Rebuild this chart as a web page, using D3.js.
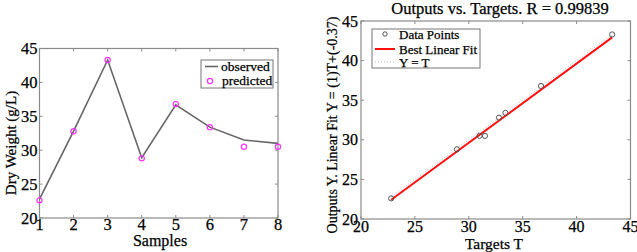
<!DOCTYPE html>
<html>
<head>
<meta charset="utf-8">
<script src="https://cdn.jsdelivr.net/npm/d3@7"></script>
<style>
  body { margin: 0; background: #fff; }
  svg text { font-family: "Liberation Serif", "Times New Roman", serif; fill: #000; stroke: #000; stroke-width: 0.25px; }
</style>
</head>
<body>
<svg id="chart"></svg>
<script>
var width = 637, height = 252;

// data
var samples = [1, 2, 3, 4, 5, 6, 7, 8];
var observed = [22.8, 32.8, 43.3, 28.9, 36.7, 33.4, 31.5, 31.0];
var predicted = [22.6, 32.8, 43.3, 28.8, 36.8, 33.4, 30.5, 30.5];
var yTicks = [20, 25, 30, 35, 40, 45];
var tTicks = [20, 25, 30, 35, 40, 45];
var fitSlope = 1, fitOffset = -0.37;

var svg = d3.select("#chart")
  .attr("width", width)
  .attr("height", height);

var boxColor = "#8a8a8a";

// ticks inside the box, on all four sides (matlab style)
function innerAxes(g, x, y, xt, yt) {
  g.selectAll(".xtb").data(xt).enter().append("line")
    .attr("x1", function (d) { return x(d); }).attr("x2", function (d) { return x(d); })
    .attr("y1", y.range()[0]).attr("y2", y.range()[0] - 3)
    .attr("stroke", boxColor);
  g.selectAll(".xtt").data(xt).enter().append("line")
    .attr("x1", function (d) { return x(d); }).attr("x2", function (d) { return x(d); })
    .attr("y1", y.range()[1]).attr("y2", y.range()[1] + 3)
    .attr("stroke", boxColor);
  g.selectAll(".ytl").data(yt).enter().append("line")
    .attr("y1", function (d) { return y(d); }).attr("y2", function (d) { return y(d); })
    .attr("x1", x.range()[0]).attr("x2", x.range()[0] + 3)
    .attr("stroke", boxColor);
  g.selectAll(".ytr").data(yt).enter().append("line")
    .attr("y1", function (d) { return y(d); }).attr("y2", function (d) { return y(d); })
    .attr("x1", x.range()[1]).attr("x2", x.range()[1] - 3)
    .attr("stroke", boxColor);
}

// ---------- left panel: samples ----------
var x1 = d3.scaleLinear().domain([1, 8]).range([39.5, 278]);
var y1 = d3.scaleLinear().domain([20, 45]).range([218, 48.5]);

var left = svg.append("g");

left.append("rect")
  .attr("x", x1(1)).attr("y", y1(45))
  .attr("width", x1(8) - x1(1)).attr("height", y1(20) - y1(45))
  .attr("fill", "#fff").attr("stroke", boxColor).attr("stroke-width", 1.2);

innerAxes(left, x1, y1, samples, yTicks);

left.selectAll(".xl").data(samples).enter().append("text")
  .attr("x", function (d) { return x1(d); })
  .attr("y", 230)
  .attr("text-anchor", "middle")
  .attr("font-size", 16.5)
  .text(function (d) { return d; });

left.selectAll(".yl").data(yTicks).enter().append("text")
  .attr("x", x1(1) - 2)
  .attr("y", function (d) { return y1(d) + 5.5; })
  .attr("text-anchor", "end")
  .attr("font-size", 16.5)
  .text(function (d) { return d; });

left.append("text")
  .attr("x", 160).attr("y", 246)
  .attr("text-anchor", "middle").attr("font-size", 16)
  .text("Samples");

left.append("text")
  .attr("transform", "translate(16,143) rotate(-90)")
  .attr("text-anchor", "middle").attr("font-size", 15)
  .text("Dry Weight (g/L)");

var line1 = d3.line()
  .x(function (d, i) { return x1(samples[i]); })
  .y(function (d) { return y1(d); });

left.append("path")
  .datum(observed)
  .attr("d", line1)
  .attr("fill", "none").attr("stroke", "#666").attr("stroke-width", 1.6);

left.selectAll(".pred").data(predicted).enter().append("circle")
  .attr("cx", function (d, i) { return x1(samples[i]); })
  .attr("cy", function (d) { return y1(d); })
  .attr("r", 2.6)
  .attr("fill", "none").attr("stroke", "#ff33ff").attr("stroke-width", 1.2);

// legend
var lg1 = left.append("g");
lg1.append("rect").attr("x", 201).attr("y", 60).attr("width", 72).attr("height", 28)
  .attr("fill", "#fff").attr("stroke", "#777").attr("stroke-width", 1);
lg1.append("line").attr("x1", 205).attr("x2", 218).attr("y1", 66.5).attr("y2", 66.5)
  .attr("stroke", "#666").attr("stroke-width", 1.6);
lg1.append("text").attr("x", 221).attr("y", 71).attr("font-size", 13.5).text("observed");
lg1.append("circle").attr("cx", 210).attr("cy", 81).attr("r", 2.6)
  .attr("fill", "none").attr("stroke", "#ff33ff").attr("stroke-width", 1.2);
lg1.append("text").attr("x", 222).attr("y", 85).attr("font-size", 13.5).text("predicted");

// ---------- right panel: regression ----------
var x2 = d3.scaleLinear().domain([20, 45]).range([361, 630.5]);
var y2 = d3.scaleLinear().domain([20, 45]).range([219, 21]);

var right = svg.append("g");

right.append("rect")
  .attr("x", x2(20)).attr("y", y2(45))
  .attr("width", x2(45) - x2(20)).attr("height", y2(20) - y2(45))
  .attr("fill", "#fff").attr("stroke", boxColor).attr("stroke-width", 1.2);

innerAxes(right, x2, y2, tTicks, yTicks);

right.selectAll(".xl").data(tTicks).enter().append("text")
  .attr("x", function (d) { return x2(d); })
  .attr("y", 232)
  .attr("text-anchor", "middle")
  .attr("font-size", 16)
  .text(function (d) { return d; });

right.selectAll(".yl").data(yTicks).enter().append("text")
  .attr("x", x2(20) - 3)
  .attr("y", function (d) { return y2(d) + 5.5; })
  .attr("text-anchor", "end")
  .attr("font-size", 16)
  .text(function (d) { return d; });

right.append("text")
  .attr("x", 500).attr("y", 14)
  .attr("text-anchor", "middle").attr("font-size", 16.5)
  .text("Outputs vs. Targets. R = 0.99839");

right.append("text")
  .attr("x", 494).attr("y", 249)
  .attr("text-anchor", "middle").attr("font-size", 15.5)
  .text("Targets T");

right.append("text")
  .attr("transform", "translate(337,125) rotate(-90)")
  .attr("text-anchor", "middle").attr("font-size", 14)
  .text("Outputs Y. Linear Fit Y = (1)T+(-0.37)");

var tMin = d3.min(observed), tMax = d3.max(observed);

// Y = T dotted line
right.append("line")
  .attr("x1", x2(tMin)).attr("y1", y2(tMin))
  .attr("x2", x2(tMax)).attr("y2", y2(tMax))
  .attr("stroke", "#bbb").attr("stroke-width", 1).attr("stroke-dasharray", "1,2");

// best linear fit
right.append("line")
  .attr("x1", x2(tMin)).attr("y1", y2(fitSlope * tMin + fitOffset))
  .attr("x2", x2(tMax)).attr("y2", y2(fitSlope * tMax + fitOffset))
  .attr("stroke", "#ff1010").attr("stroke-width", 2);

right.selectAll(".pt").data(observed).enter().append("circle")
  .attr("cx", function (d) { return x2(d); })
  .attr("cy", function (d, i) { return y2(predicted[i]); })
  .attr("r", 2.6)
  .attr("fill", "none").attr("stroke", "#555").attr("stroke-width", 1);

// legend
var lg2 = right.append("g");
lg2.append("rect").attr("x", 372).attr("y", 29).attr("width", 108).attr("height", 39)
  .attr("fill", "#fff").attr("stroke", "#777").attr("stroke-width", 1);
lg2.append("circle").attr("cx", 385).attr("cy", 34).attr("r", 2.2)
  .attr("fill", "none").attr("stroke", "#555").attr("stroke-width", 1);
lg2.append("text").attr("x", 399).attr("y", 39).attr("font-size", 13).text("Data Points");
lg2.append("line").attr("x1", 375).attr("x2", 395).attr("y1", 49).attr("y2", 49)
  .attr("stroke", "#ff1010").attr("stroke-width", 2);
lg2.append("text").attr("x", 399).attr("y", 54).attr("font-size", 13).text("Best Linear Fit");
lg2.append("line").attr("x1", 375).attr("x2", 395).attr("y1", 62).attr("y2", 62)
  .attr("stroke", "#bbb").attr("stroke-width", 1).attr("stroke-dasharray", "1,2");
lg2.append("text").attr("x", 399).attr("y", 67).attr("font-size", 13).text("Y = T");
</script>
</body>
</html>
